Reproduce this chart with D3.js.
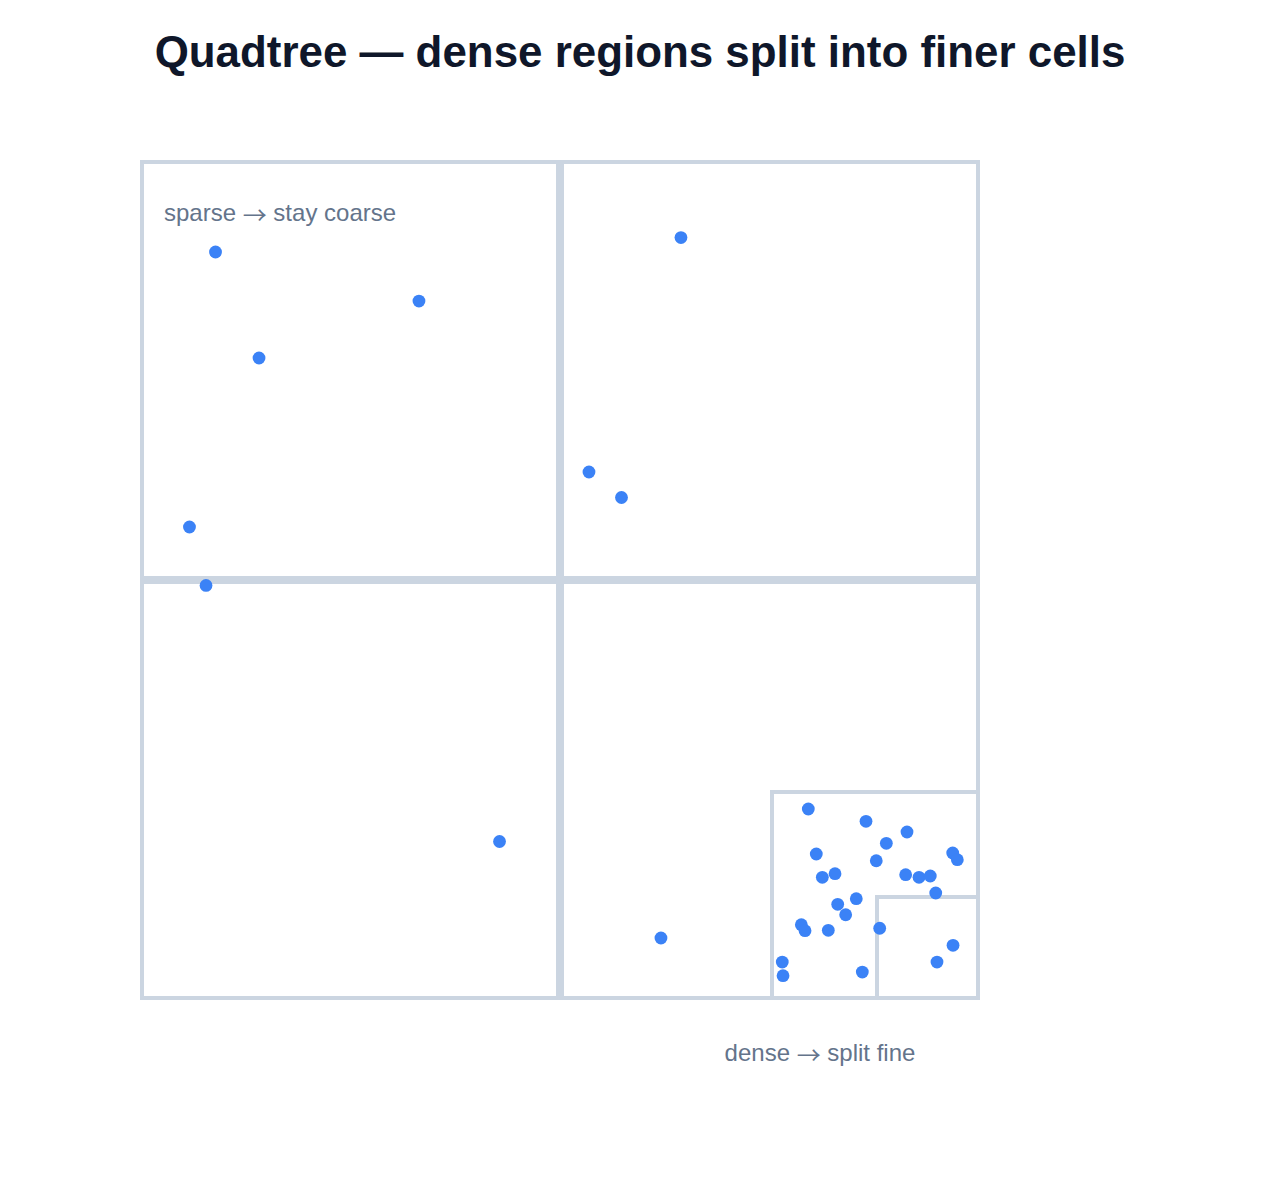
<!DOCTYPE html>
<html>
<head>
<meta charset="utf-8">
<title>Quadtree</title>
<script src="https://cdn.jsdelivr.net/npm/d3@7"></script>
<style>
  html, body { margin: 0; padding: 0; background: #fff; }
  svg { display: block; font-family: "Liberation Sans", Arial, sans-serif; }
  .arrow { font-family: "Noto Sans CJK JP", "Liberation Sans", sans-serif; }
</style>
</head>
<body>
<div id="chart"></div>
<script>
const chartTitle = "Quadtree — dense regions split into finer cells";
const sparseLabel = ["sparse ", "→", " stay coarse"];
const denseLabel = ["dense ", "→", " split fine"];

// quadtree leaves, in percent of the root square
const cellX = [0, 50, 0, 50, 75, 87.5];
const cellY = [0, 0, 50, 50, 75, 87.5];
const cellSize = [50, 50, 50, 50, 25, 12.5];

// points, in percent of the root square
const pointX = [8.99, 33.21, 14.17, 5.89, 7.86, 64.40, 53.45, 57.32, 42.80, 62.02,
  79.56, 86.43, 91.31, 88.85, 80.51, 87.65, 96.75, 97.30, 82.74, 81.23, 91.15, 92.74, 94.08,
  94.73, 85.27, 83.06, 84.01, 78.73, 79.17, 81.94, 88.06, 96.79, 94.88, 76.46, 76.55, 85.99];
const pointY = [10.95, 16.79, 23.57, 43.69, 50.65, 9.23, 37.14, 40.18, 81.13, 92.62,
  77.26, 78.73, 80.00, 81.35, 82.62, 83.42, 82.50, 83.30, 84.96, 85.39, 85.08, 85.39, 85.24,
  87.26, 87.94, 88.61, 89.85, 91.04, 91.75, 91.70, 91.46, 93.49, 95.48, 95.48, 97.11, 96.67];

const width = 1280, height = 1200;
const x = d3.scaleLinear().domain([0, 100]).range([140, 980]);
const y = d3.scaleLinear().domain([0, 100]).range([160, 1000]);
const inset = 2; //keeps the stroke inside the cell

const svg = d3.select("#chart").append("svg")
  .attr("width", width)
  .attr("height", height);

svg.append("text")
  .attr("x", 640)
  .attr("y", 67)
  .attr("text-anchor", "middle")
  .attr("font-size", 43.9)
  .attr("font-weight", 700)
  .attr("fill", "#0f172a")
  .text(chartTitle);

svg.append("g").selectAll("rect")
  .data(cellSize)
  .join("rect")
  .attr("x", (d, i) => x(cellX[i]) + inset)
  .attr("y", (d, i) => y(cellY[i]) + inset)
  .attr("width", (d, i) => x(cellX[i] + d) - x(cellX[i]) - inset * 2)
  .attr("height", (d, i) => y(cellY[i] + d) - y(cellY[i]) - inset * 2)
  .attr("fill", "none")
  .attr("stroke", "#cbd5e1")
  .attr("stroke-width", 4);

svg.append("g").selectAll("circle")
  .data(pointX)
  .join("circle")
  .attr("cx", d => x(d))
  .attr("cy", (d, i) => y(pointY[i]))
  .attr("r", 6.4)
  .attr("fill", "#3b82f6");

// arrow sits in its own tspan, the default font draws it too short
function addLabel(parts, px, py, anchor) {
  svg.append("text")
    .attr("x", px)
    .attr("y", py)
    .attr("text-anchor", anchor)
    .attr("font-size", 24)
    .attr("fill", "#64748b")
    .attr("xml:space", "preserve")
    .style("white-space", "pre")
    .selectAll("tspan")
    .data(parts)
    .join("tspan")
    .attr("class", d => d === "→" ? "arrow" : null)
    .attr("dy", (d, i) => i === 1 ? 3 : i === 2 ? -3 : 0)
    .text(d => d);
}

addLabel(sparseLabel, 164, 221, "start");
addLabel(denseLabel, 820, 1061, "middle");
</script>
</body>
</html>
